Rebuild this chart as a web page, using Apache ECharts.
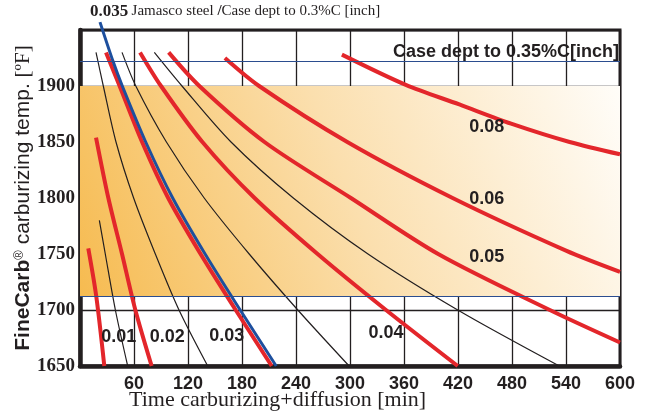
<!DOCTYPE html>
<html>
<head>
<meta charset="utf-8">
<script src="https://cdn.jsdelivr.net/npm/echarts@6/dist/echarts.min.js"></script>
<style>
  html, body { margin: 0; padding: 0; background: #fff; }
  #chart { width: 647px; height: 418px; }
</style>
</head>
<body>
<div id="chart"></div>
<script>
// axis ticks
var xTicks = [60, 120, 180, 240, 300, 360, 420, 480, 540, 600];
var yTicks = [1650, 1700, 1750, 1800, 1850, 1900];

// shaded band + blue reference lines (degF)
var bandLow = 1712, bandHigh = 1900;
var refLines = [1712, 1922];

// case depth curves [min, degF]
var red001 = [[9.2, 1755], [18.1, 1712], [27, 1650]];
var blk0015 = [[21.5, 1780], [28.1, 1750], [39.3, 1700], [53, 1650]];
var red002 = [[17.8, 1854], [31.5, 1800], [46.7, 1750], [61.5, 1700], [79.6, 1650]];
var blk0025 = [[17.8, 1930], [25.9, 1900], [40, 1850], [59.6, 1800], [83.7, 1750], [110, 1700], [141.9, 1650]];
var red003 = [[28.9, 1930], [44, 1900], [69, 1850], [98, 1800], [134, 1750], [173, 1700], [213, 1650]];
var blue0035 = [[22.2, 1957], [36.7, 1922], [47, 1900], [73, 1850], [103, 1800], [139, 1750], [178, 1700], [218, 1650]];
var blk0035 = [[46.7, 1930], [62, 1900], [96, 1850], [138, 1800], [188, 1750], [242, 1700], [299, 1650]];
var red004 = [[66.7, 1930], [90, 1900], [136, 1850], [194, 1800], [264, 1750], [340, 1700], [419.7, 1650]];
var blk0045 = [[82.6, 1930], [113.3, 1900], [167.8, 1850], [237, 1800], [320, 1750], [419.7, 1700], [532.6, 1650]];
var red005 = [[98.5, 1930], [132.6, 1900], [205, 1850], [301, 1800], [398, 1750], [522, 1700], [600, 1671]];
var red006 = [[161, 1925], [199, 1900], [297, 1850], [414, 1800], [540, 1753], [600, 1734]];
var red008 = [[291, 1928], [362, 1901], [421.5, 1883.5], [479, 1866.4], [544, 1850], [600, 1839]];

var RED = '#e3262b', BLK = '#231f20', BLUE = '#1d4f9e';

function lbl(text, x, y) {
  return {
    coord: [x, y],
    label: { show: true, formatter: text, fontFamily: 'Liberation Sans', fontWeight: 'bold', fontSize: 18, color: BLK }
  };
}

function curve(name, data, color, width, marks, extra) {
  var s = {
    name: name, type: 'line', data: data, smooth: 0.3, showSymbol: false, symbol: 'none',
    lineStyle: { color: color, width: width, cap: 'butt' }, silent: true, z: 3
  };
  if (marks) s.markPoint = { symbol: 'circle', symbolSize: 0, silent: true, data: marks };
  return Object.assign(s, extra || {});
}

var chart = echarts.init(document.getElementById('chart'), null, { renderer: 'canvas' });

var option = {
  animation: false,
  grid: {
    left: 80, right: 27, top: 30, bottom: 52, outerBoundsMode: 'none', containLabel: false,
    show: true, borderColor: BLK, borderWidth: 3, backgroundColor: 'transparent'
  },
  xAxis: {
    type: 'value', min: 0, max: 600, interval: 60,
    axisLine: { show: true, onZero: false, lineStyle: { color: BLK, width: 4.5 } },
    axisTick: { show: false },
    splitLine: { show: true, lineStyle: { color: BLK, width: 1.3 } },
    axisLabel: {
      customValues: xTicks, margin: 9, color: BLK, fontFamily: 'Liberation Sans', fontWeight: 'bold', fontSize: 18,
      formatter: function (v) { return String(v); }
    }
  },
  yAxis: {
    type: 'value', min: 1650, max: 1950, interval: 50,
    axisLine: { show: true, onZero: false, lineStyle: { color: BLK, width: 4.5 } },
    axisTick: { show: false },
    splitLine: { show: true, lineStyle: { color: BLK, width: 1.3 } },
    axisLabel: {
      customValues: yTicks, margin: 5, color: BLK, fontFamily: 'Liberation Serif', fontWeight: 'bold', fontSize: 19,
      formatter: function (v) { return String(v); }
    },
    name: '{a|FineCarb}{b|®}{c| carburizing temp. }{d|[ºF]}',
    nameLocation: 'middle', nameGap: 46, nameRotate: 90, nameMoveOverlap: false,
    nameTextStyle: {
      rich: {
        a: { fontFamily: 'Liberation Sans', fontWeight: 'bold', fontSize: 21, color: BLK },
        b: { fontFamily: 'Liberation Sans', fontSize: 13, color: BLK, verticalAlign: 'top', padding: [0, 0, 8, 0] },
        c: { fontFamily: 'Liberation Sans', fontSize: 21, color: BLK },
        d: { fontFamily: 'Liberation Serif', fontSize: 21, color: BLK }
      }
    }
  },
  graphic: [
    {
      type: 'text', left: 90, top: 3, silent: true,
      style: {
        text: '{a|0.035} {b|Jamasco steel }{c|/}{b|Case dept to 0.3%C [inch]}',
        rich: {
          a: { fontFamily: 'Liberation Serif', fontWeight: 'bold', fontSize: 17, fill: BLK },
          b: { fontFamily: 'Liberation Serif', fontSize: 15, fill: BLK },
          c: { fontFamily: 'Liberation Serif', fontWeight: 'bold', fontSize: 15, fill: BLK }
        }
      }
    },
    {
      type: 'text', right: 28, top: 43, silent: true,
      style: { text: 'Case dept to 0.35%C[inch]', fontFamily: 'Liberation Sans', fontWeight: 'bold', fontSize: 18, fill: BLK }
    },
    {
      type: 'text', left: 129, top: 389, silent: true,
      style: { text: 'Time carburizing+diffusion [min]', fontFamily: 'Liberation Serif', fontSize: 22, fill: BLK }
    }
  ],
  series: [
    {
      name: 'band', type: 'line', data: [], z: -1, silent: true,
      markArea: {
        silent: true,
        itemStyle: {
          color: new echarts.graphic.LinearGradient(0, 1, 1, 0, [
            { offset: 0, color: '#f6bb50' },
            { offset: 0.5, color: '#fbdfae' },
            { offset: 1, color: '#fffdf9' }
          ])
        },
        data: [[{ xAxis: 0, yAxis: bandLow }, { xAxis: 600, yAxis: bandHigh }]]
      },
      markLine: {
        silent: true, symbol: 'none', label: { show: false },
        lineStyle: { color: '#2b4d8f', width: 1.2, type: 'solid' },
        data: refLines.map(function (v) { return { yAxis: v }; })
      }
    },
    curve('0.01', red001, RED, 4, [lbl('0.01', 43, 1676)]),
    curve('0.015', blk0015, BLK, 1.2),
    curve('0.02', red002, RED, 4, [lbl('0.02', 97, 1676)]),
    curve('0.025', blk0025, BLK, 1.2),
    curve('0.03', red003, RED, 4, [lbl('0.03', 163, 1677)]),
    curve('0.035 Jamasco', blue0035, BLUE, 3, null, { clip: false, z: 4 }),
    curve('0.035', blk0035, BLK, 1.2),
    curve('0.04', red004, RED, 4, [lbl('0.04', 340, 1679)]),
    curve('0.045', blk0045, BLK, 1.2),
    curve('0.05', red005, RED, 4, [lbl('0.05', 452, 1747)]),
    curve('0.06', red006, RED, 4, [lbl('0.06', 452, 1799)]),
    curve('0.08', red008, RED, 4, [lbl('0.08', 452, 1863)])
  ]
};

chart.setOption(option);
</script>
</body>
</html>
